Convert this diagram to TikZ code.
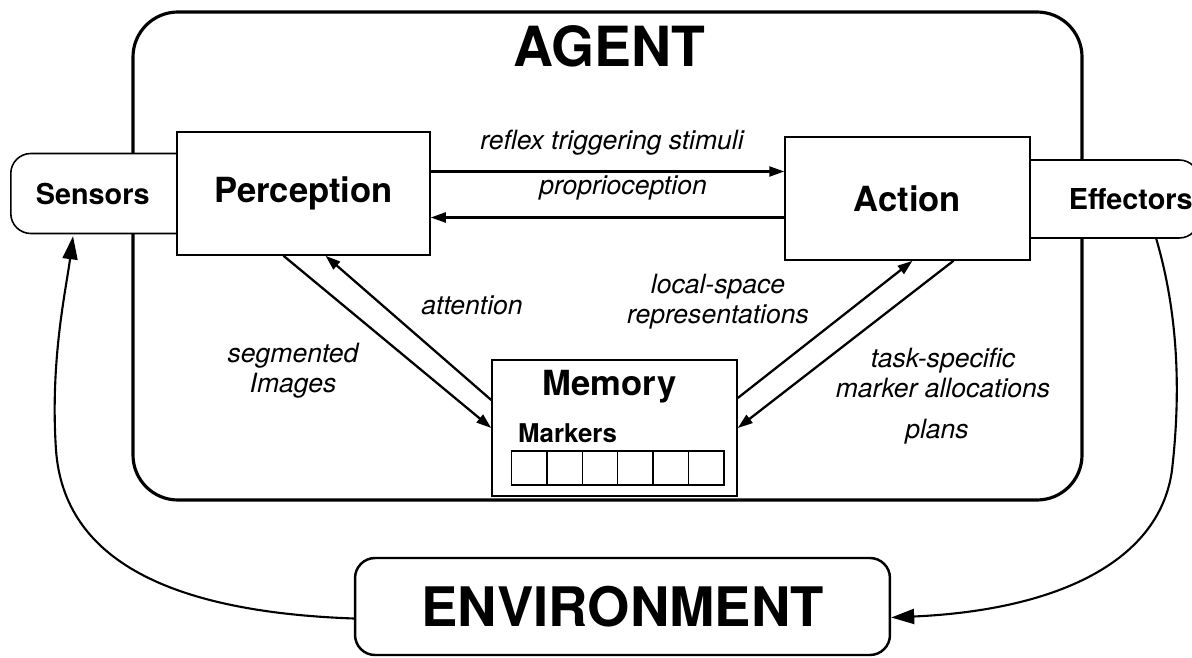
\documentclass[tikz,border=0pt]{standalone}
\usepackage{fontspec}
\setmainfont{TeX Gyre Heros}
\usetikzlibrary{arrows.meta,calc,positioning}
\tikzset {
  >={Triangle[length=3mm,width=2mm]},
  every node/.style={font=\fontsize{15.1}{17}\selectfont\itshape},
  label text/.style={align=center,anchor=base},
  block/.style={draw,line width=0.9pt,fill=white,minimum height=2.46cm,font=\fontsize{19.7}{22}\selectfont\bfseries},
  port/.style={draw,line width=0.9pt,fill=white,rounded corners=0.4cm,minimum height=1.6cm,font=\fontsize{16.4}{18}\selectfont\bfseries},
  flow/.style={->,line width=1.3pt},
  feedback/.style={-{Triangle[length=4.6mm,width=3mm]},line width=1.2pt},
}

\begin{document}
\begin{tikzpicture}[x=0.02cm,y=-0.02cm]
  \useasboundingbox (0,0) rectangle (1192,658);

  \draw[line width=1.8pt,rounded corners=0.9cm] (133,12) rectangle (1082,500);
  \node (agent) at (609,67)[anchor=base,font=\fontsize{31.5}{34}\selectfont\bfseries]{AGENT};

  \node (sensors) at (10,193.5)[port,anchor=west,text width=2.8cm,inner xsep=0.5cm,align=left]{Sensors};
  \node (effectors) at (1200,199)[port,anchor=east,text width=3.54cm,inner xsep=0.13cm,align=right,minimum height=1.56cm]{Effectors};

  \node (perc) at (303.5,193.5)[block,minimum width=5.06cm]{Perception};
  \node (act) at (907.5,198.5)[block,minimum width=4.9cm]{Action};

  \node (mem) at (614.5,428)[block,minimum width=4.9cm,minimum height=2.72cm]{};
  \node (memtitle) at (609.5,395)[anchor=base,font=\fontsize{19.7}{22}\selectfont\bfseries]{Memory};
  \node (markers) at (512,442)[anchor=base west,font=\fontsize{14.7}{16}\selectfont\bfseries]{Markers};
  \foreach \i in {0,...,5}
    \draw[line width=0.8pt] (511.5+35.4*\i,451) rectangle ++(35.4,34);

  \coordinate (stim) at ($(perc.east)+(0,-22)$);
  \coordinate (prop) at ($(perc.east)+(0,24)$);
  \draw[flow] (stim) -- (stim -| act.west);
  \draw[flow] (prop -| act.west) -- (prop);
  \node (stimlabel) at (612,150)[label text]{reflex triggering stimuli};
  \node (proplabel) at (623,195)[label text]{proprioception};

  \draw[flow] ($(perc.south)+(-20,0)$) -- (mem.west);
  \draw[flow] ($(mem.west)+(0,-28)$) -- ($(perc.south)+(22,0)$);
  \draw[flow] ($(mem.east)+(0,-30)$) -- ($(act.south)+(5,0)$);
  \draw[flow] ($(act.south)+(46,0)$) -- (mem.east);
  \node (attlabel) at (472,315)[label text]{attention};
  \node (seglabel) at (293,392)[label text]{segmented\\Images};
  \node (loclabel) at (718,323)[label text]{local-space\\representations};
  \node (tasklabel) at (943,397)[label text]{task-specific\\marker allocations};
  \node (planlabel) at (937,438)[label text]{plans};

  \node (env) at (622.5,606.5)[draw,line width=1.4pt,rounded corners=0.4cm,minimum width=10.7cm,minimum height=1.94cm,font=\fontsize{31}{34}\selectfont\bfseries]{ENVIRONMENT};

  \draw[feedback] ($(env.west)+(0,12)$) .. controls (170,612) and (64,560) .. (56,450)
    .. controls (50,360) and (66,290) .. ($(sensors.south west)+(63,2)$);
  \draw[feedback] ($(effectors.south)+(52,0)$) .. controls (1180,320) and (1180,400) .. (1172,470)
    .. controls (1160,560) and (1060,610) .. ($(env.east)+(0,11)$);
\end{tikzpicture}
\end{document}
